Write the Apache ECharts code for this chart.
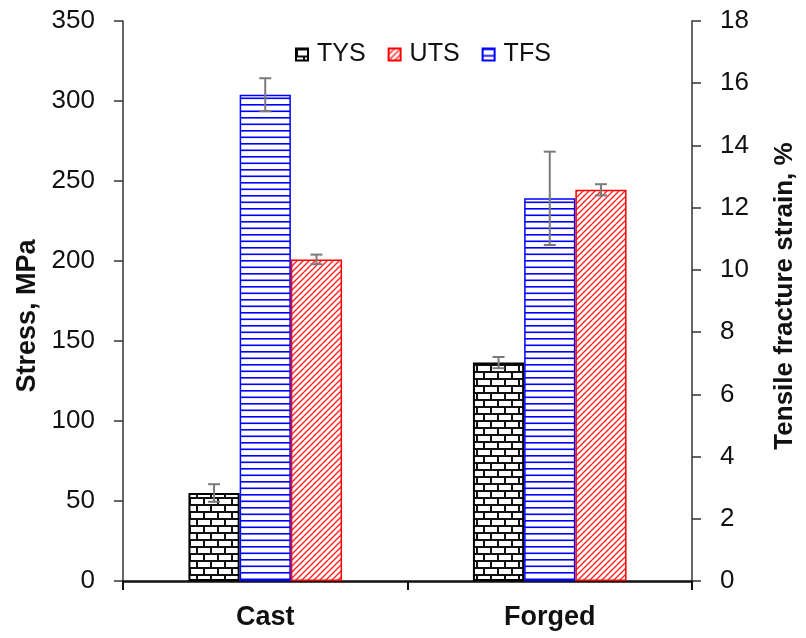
<html lang="en">
<head>
  <meta charset="UTF-8">
  <title>stress chart</title>
  <style>
    html, body { margin: 0; padding: 0; background: #fff; }
    #main { width: 806px; height: 638px; }
  </style>
</head>
<body>
  <div id="main"></div>
  <script src="https://cdn.jsdelivr.net/npm/echarts@6/dist/echarts.min.js"></script>
  <script>
    // categories and values
    var categories = ['Cast', 'Forged']
    var tysVals = [55, 136.5]
    var tysErr = [5.5, 3.5]
    var utsVals = [201, 244.5]
    var utsErr = [3, 3.5]
    var tfsVals = [15.63, 12.3]   // right axis, %
    var tfsErr = [0.53, 1.5]
    var stressTicks = { min: 0, max: 350, step: 50 }
    var strainTicks = { min: 0, max: 18, step: 2 }

    var BAR_RATIO = 0.18
    var FONT = 'Liberation Sans, Arial, sans-serif'

    var brickTile = function () {
      var c = document.createElement('canvas')
      c.width = 14
      c.height = 14
      var g = c.getContext('2d')
      g.fillStyle = '#fff'
      g.fillRect(0, 0, 14, 14)
      g.fillStyle = '#111'
      g.fillRect(0, 0, 14, 2)
      g.fillRect(0, 7, 14, 2)
      g.fillRect(0, 0, 2, 7)
      g.fillRect(7, 7, 2, 7)
      return c
    }
    var stripeTile = function () {
      var c = document.createElement('canvas')
      c.width = 4
      c.height = 13
      var g = c.getContext('2d')
      g.fillStyle = '#fff'
      g.fillRect(0, 0, 4, 13)
      g.fillStyle = '#0000ff'
      g.fillRect(0, 0, 4, 1.6)
      g.fillRect(0, 6.5, 4, 1.6)
      return c
    }
    var hatchTile = function () {
      var c = document.createElement('canvas')
      c.width = 6
      c.height = 6
      var g = c.getContext('2d')
      g.fillStyle = '#fff'
      g.fillRect(0, 0, 6, 6)
      g.strokeStyle = '#ff2020'
      g.lineWidth = 1.4
      g.beginPath()
      g.moveTo(-1, 7); g.lineTo(7, -1)
      g.moveTo(-1, 1); g.lineTo(1, -1)
      g.moveTo(5, 7); g.lineTo(7, 5)
      g.stroke()
      return c
    }

    var errSeries = function (name, vals, errs, slot, axisIdx) {
      return {
        type: 'custom',
        name: name + ' err',
        yAxisIndex: axisIdx,
        z: 10,
        encode: { x: 0, y: [1, 2] },
        data: vals.map(function (v, i) { return [i, v - errs[i], v + errs[i]] }),
        renderItem: function (params, api) {
          var x = api.value(0)
          var lo = api.coord([x, api.value(1)])
          var hi = api.coord([x, api.value(2)])
          var bw = api.size([1, 0])[0] * BAR_RATIO
          var cx = lo[0] + (slot - 1) * bw
          var cap = 6
          var style = { stroke: '#7a7a7a', lineWidth: 2 }
          return {
            type: 'group',
            children: [
              { type: 'line', shape: { x1: cx, y1: lo[1], x2: cx, y2: hi[1] }, style: style },
              { type: 'line', shape: { x1: cx - cap, y1: lo[1], x2: cx + cap, y2: lo[1] }, style: style },
              { type: 'line', shape: { x1: cx - cap, y1: hi[1], x2: cx + cap, y2: hi[1] }, style: style }
            ]
          }
        }
      }
    }

    var valueAxis = function (ticks, name, side, gap, nameSize, namePad) {
      return {
        type: 'value',
        position: side,
        min: ticks.min,
        max: ticks.max,
        interval: ticks.step,
        name: name,
        nameLocation: 'middle',
        nameGap: gap,
        nameTextStyle: { fontSize: nameSize, fontWeight: 'bold', color: '#111', fontFamily: FONT, padding: namePad },
        axisLine: { show: true, lineStyle: { color: '#333', width: 1.5 } },
        axisTick: { show: true, length: 9, lineStyle: { color: '#333', width: 1.5 } },
        axisLabel: { fontSize: 26, color: '#111', fontFamily: FONT, margin: 28 },
        splitLine: { show: false }
      }
    }

    var option = {
      backgroundColor: '#fff',
      animation: false,
      grid: { left: 123, right: 114, top: 21, bottom: 57, containLabel: false },
      legend: {
        data: ['TYS', 'UTS', 'TFS'],
        left: 295,
        top: 42,
        padding: 0,
        icon: 'rect',
        itemWidth: 12,
        itemHeight: 12,
        itemGap: 22,
        textStyle: { fontSize: 25, color: '#111', fontFamily: FONT, padding: [0, 0, 0, 4] }
      },
      xAxis: {
        type: 'category',
        data: categories,
        axisLine: { lineStyle: { color: '#111', width: 2.5 } },
        axisTick: { show: true, length: 9, lineStyle: { color: '#111', width: 2 } },
        axisLabel: { fontSize: 27, fontWeight: 'bold', color: '#111', fontFamily: FONT, margin: 23 }
      },
      yAxis: [
        valueAxis(stressTicks, 'Stress, MPa', 'left', 80, 27, [0, 30, 0, 0]),
        valueAxis(strainTicks, 'Tensile fracture strain, %', 'right', 80, 26, [0, 0, 0, 10])
      ],
      series: [
        {
          name: 'TYS',
          type: 'bar',
          yAxisIndex: 0,
          barWidth: (BAR_RATIO * 100) + '%',
          barGap: '0%',
          itemStyle: { color: { image: brickTile(), repeat: 'repeat' }, borderColor: '#000', borderWidth: 2 },
          data: tysVals
        },
        {
          name: 'TFS',
          type: 'bar',
          yAxisIndex: 1,
          barWidth: (BAR_RATIO * 100) + '%',
          barGap: '0%',
          itemStyle: { color: { image: stripeTile(), repeat: 'repeat' }, borderColor: '#0000ff', borderWidth: 1.5 },
          data: tfsVals
        },
        {
          name: 'UTS',
          type: 'bar',
          yAxisIndex: 0,
          barWidth: (BAR_RATIO * 100) + '%',
          barGap: '0%',
          itemStyle: { color: { image: hatchTile(), repeat: 'repeat' }, borderColor: '#ff0000', borderWidth: 1.5 },
          data: utsVals
        },
        errSeries('TYS', tysVals, tysErr, 0, 0),
        errSeries('TFS', tfsVals, tfsErr, 1, 1),
        errSeries('UTS', utsVals, utsErr, 2, 0)
      ]
    }

    var chart = echarts.init(document.getElementById('main'))
    chart.setOption(option)
  </script>
</body>
</html>
